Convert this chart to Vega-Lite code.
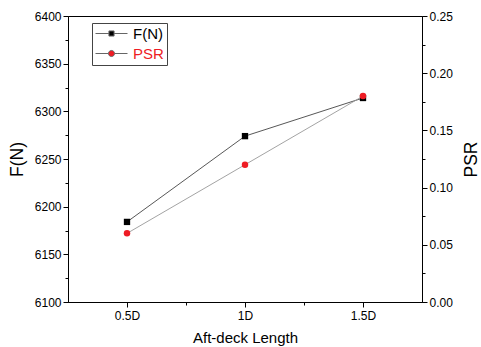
{
  "$schema": "https://vega.github.io/schema/vega-lite/v6.json",
  "width": 354,
  "height": 286,
  "autosize": {"type": "none"},
  "padding": {"left": 68, "top": 16, "right": 59, "bottom": 45},
  "background": "white",
  "config": {
    "font": "Liberation Sans",
    "view": {"stroke": "black", "strokeWidth": 1},
    "axis": {
      "domainColor": "black",
      "tickColor": "black",
      "labelColor": "black",
      "titleColor": "black",
      "labelFont": "Liberation Sans",
      "titleFont": "Liberation Sans",
      "labelFontSize": 12,
      "titleFontWeight": "normal",
      "grid": false
    }
  },
  "data": {
    "values": [
      {"len": 0.5, "series": "F(N)", "value": 6184},
      {"len": 1.0, "series": "F(N)", "value": 6274},
      {"len": 1.5, "series": "F(N)", "value": 6314},
      {"len": 0.5, "series": "PSR", "value": 0.06},
      {"len": 1.0, "series": "PSR", "value": 0.12},
      {"len": 1.5, "series": "PSR", "value": 0.18}
    ]
  },
  "encoding": {
    "x": {
      "field": "len",
      "type": "quantitative",
      "scale": {"domain": [0.25, 1.75], "nice": false, "zero": false},
      "axis": {
        "title": "Aft-deck Length",
        "titleFontSize": 15,
        "titlePadding": 9,
        "values": [0.5, 0.75, 1, 1.25, 1.5],
        "labelExpr": "datum.value === 0.5 ? '0.5D' : datum.value === 1 ? '1D' : datum.value === 1.5 ? '1.5D' : ''",
        "tickSize": {"condition": {"test": "datum.value === 0.5 || datum.value === 1 || datum.value === 1.5", "value": 5}, "value": 3},
        "labelPadding": 3
      }
    }
  },
  "layer": [
    {
      "transform": [{"filter": "datum.series === 'F(N)'"}],
      "encoding": {
        "y": {
          "field": "value",
          "type": "quantitative",
          "scale": {"domain": [6100, 6400], "nice": false, "zero": false},
          "axis": {
            "orient": "left",
            "title": "F(N)",
            "titleFontSize": 17.5,
            "titlePadding": 8,
            "format": "d",
            "values": [6100, 6125, 6150, 6175, 6200, 6225, 6250, 6275, 6300, 6325, 6350, 6375, 6400],
            "labelExpr": "datum.value % 50 === 0 ? datum.label : ''",
            "tickSize": {"condition": {"test": "datum.value % 50 === 0", "value": 5}, "value": 3},
            "labelPadding": 2
          }
        }
      },
      "layer": [
        {"mark": {"type": "line", "color": "#444444", "strokeWidth": 0.9}},
        {
          "mark": {"type": "point", "shape": "square", "filled": true, "size": 40, "opacity": 1},
          "encoding": {
            "color": {
              "field": "series",
              "type": "nominal",
              "scale": {"domain": ["F(N)", "PSR"], "range": ["black", "#ee1c24"]},
              "legend": {
                "title": null,
                "orient": "none",
                "legendX": 24,
                "legendY": 7,
                "strokeColor": "#444444",
                "fillColor": "white",
                "padding": 3,
                "symbolSize": 1024,
                "clipHeight": 15,
                "labelFontSize": 15,
                "labelFont": "Liberation Sans",
                "labelOffset": 5,
                "rowPadding": 4,
                "encoding": {
                  "symbols": {
                    "shape": {
                      "condition": {"test": "datum.value === 'PSR'", "value": "M-1,0H-0.19M0.19,0H1M-0.19,0A0.19,0.19 0 1,0 0.19,0A0.19,0.19 0 1,0 -0.19,0Z"},
                      "value": "M-1,0H-0.16M0.16,0H1M-0.16,-0.16H0.16V0.16H-0.16Z"
                    },
                    "stroke": {"value": "#666666"},
                    "strokeWidth": {"value": 1},
                    "opacity": {"value": 1}
                  },
                  "labels": {
                    "fontSize": {"value": 15},
                    "fill": {
                      "condition": {"test": "datum.value === 'PSR'", "value": "#ee1c24"},
                      "value": "black"
                    }
                  }
                }
              }
            }
          }
        }
      ]
    },
    {
      "transform": [{"filter": "datum.series === 'PSR'"}],
      "encoding": {
        "y": {
          "field": "value",
          "type": "quantitative",
          "scale": {"domain": [0, 0.25], "nice": false, "zero": false},
          "axis": {
            "orient": "right",
            "title": "PSR",
            "titleFontSize": 17.5,
            "titleAngle": -90,
            "titlePadding": 28,
            "values": [0, 0.025, 0.05, 0.075, 0.1, 0.125, 0.15, 0.175, 0.2, 0.225, 0.25],
            "labelExpr": "round(datum.value * 1000) % 50 === 0 ? format(datum.value, '.2f') : ''",
            "tickSize": {"condition": {"test": "round(datum.value * 1000) % 50 === 0", "value": 5}, "value": 3},
            "labelPadding": 2
          }
        }
      },
      "layer": [
        {"mark": {"type": "line", "color": "#999999", "strokeWidth": 0.9}},
        {
          "mark": {"type": "point", "shape": "circle", "filled": true, "size": 42, "opacity": 1},
          "encoding": {
            "color": {"field": "series", "type": "nominal"}
          }
        }
      ]
    }
  ],
  "resolve": {"scale": {"y": "independent"}}
}
